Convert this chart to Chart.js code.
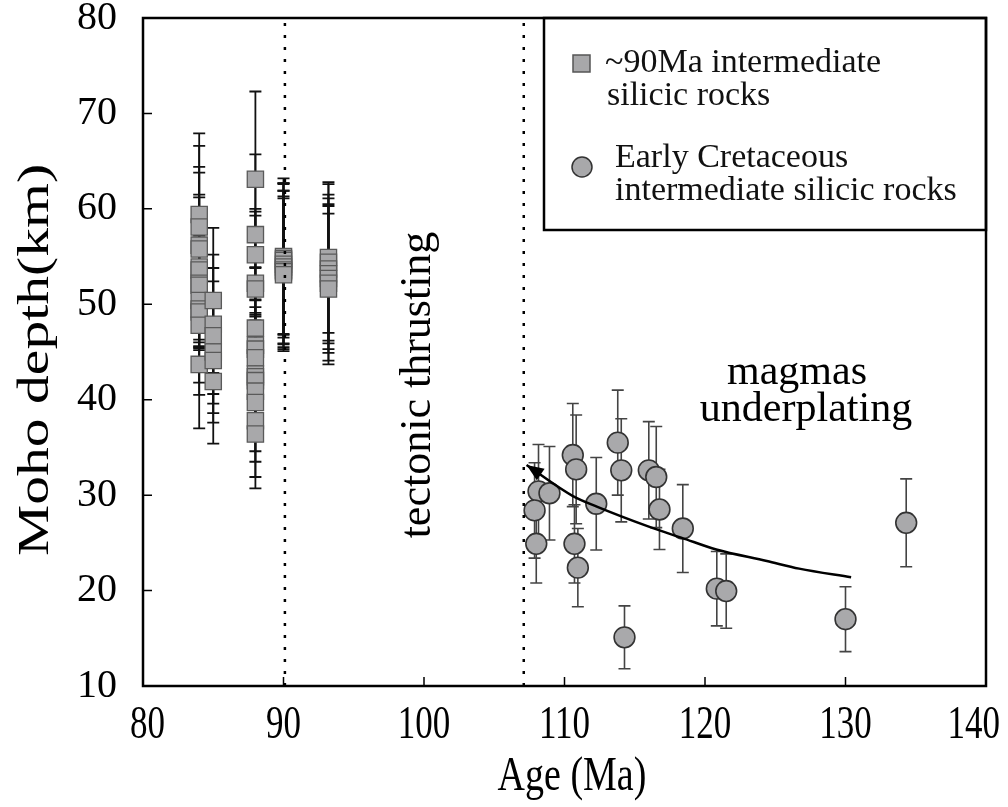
<!DOCTYPE html>
<html>
<head>
<meta charset="utf-8">
<script src="https://cdn.jsdelivr.net/npm/chart.js@4.4.1/dist/chart.umd.min.js"></script>
<style>
  body { margin: 0; background: #fff; }
  #wrap { width: 1008px; height: 807px; }
</style>
</head>
<body>
<div id="wrap"><canvas id="mohoChart" width="1008" height="807"></canvas></div>
<script>
// ~90 Ma intermediate silicic rocks: age (Ma), Moho depth (km), error (km)
const squareAge = [
  84.0, 84.0, 84.0, 84.0, 84.0, 84.0, 84.0, 84.0, 84.0, 84.0, 84.0, 84.0, 84.0,
  85.0, 85.0, 85.0, 85.0, 85.0, 85.0,
  88.0, 88.0, 88.0, 88.0, 88.0, 88.0, 88.0, 88.0, 88.0, 88.0, 88.0, 88.0, 88.0, 88.0, 88.0, 88.0,
  90.0, 90.0, 90.0, 90.0, 90.0, 90.0, 90.0, 90.0,
  93.2, 93.2, 93.2, 93.2, 93.2, 93.2, 93.2,
];
const squareDepth = [
  59.4, 58.1, 56.2, 55.8, 53.9, 53.6, 52.2, 52.0, 50.4, 49.5, 49.2, 47.8, 43.7,
  50.4, 47.9, 46.7, 45.0, 44.1, 41.9,
  63.1, 57.3, 55.2, 52.2, 51.6, 47.5, 45.7, 45.3, 44.4, 42.7, 42.4, 42.0, 40.9, 39.7, 37.8, 36.4,
  55.0, 54.8, 54.6, 54.2, 53.9, 53.6, 53.4, 53.1,
  54.9, 54.4, 53.7, 53.2, 52.7, 52.2, 51.6,
];
const squareError = [
  8.5, 8.5, 8.2, 8.0, 7.6, 7.6, 6.6, 6.5, 5.0, 7.7, 4.0, 7.3, 6.7,
  7.6, 7.3, 7.1, 7.4, 5.5, 6.5,
  9.2, 8.4, 4.8, 7.5, 7.7, 6.3, 4.8, 4.4, 4.7, 6.0, 4.0, 5.0, 7.4, 7.8, 7.1, 1.8,
  8.2, 7.9, 8.1, 8.4, 8.0, 8.3, 7.9, 8.0,
  7.9, 8.2, 7.8, 7.9, 7.8, 8.1, 7.9,
];

// Early Cretaceous intermediate silicic rocks
const circleAge = [108.15, 107.87, 107.99, 108.93, 110.59, 110.83, 110.71, 110.95, 112.26, 113.79,
  114.04, 116.0, 116.53, 116.76, 118.42, 114.27, 120.84, 121.51, 130.0, 134.32];
const circleDepth = [30.4, 28.4, 24.9, 30.2, 34.2, 32.7, 24.9, 22.4, 29.1, 35.5,
  32.6, 32.6, 31.9, 28.5, 26.5, 15.1, 20.2, 19.95, 17.0, 27.1];
const circleError = [4.9, 5.0, 4.1, 4.9, 5.4, 5.7, 4.1, 4.1, 4.85, 5.5,
  5.4, 5.1, 5.3, 4.2, 4.6, 3.3, 3.9, 3.9, 3.4, 4.6];

// underplating trend (arrow points to the younger end)
const trendAge = [107.3, 110.6, 112.3, 116.0, 118.4, 120.8, 124.4, 126.7, 130.4];
const trendDepth = [33.15, 29.9, 28.8, 26.7, 25.5, 24.3, 23.1, 22.3, 21.4];

// dotted boundaries
const dividerAge = [90.1, 107.1];
const depthRange = [10, 80];

const ageTicks = [80, 90, 100, 110, 120, 130, 140];
const depthTicks = [10, 20, 30, 40, 50, 60, 70, 80];

const toPoints = (xs, ys) => xs.map((x, i) => ({ x: x, y: ys[i] }));

const SERIF = "'Liberation Serif', 'Times New Roman', serif";
Chart.defaults.font.family = SERIF;
Chart.defaults.color = "#000";

// error bars under the markers
const errorBars = {
  id: "errorBars",
  beforeDatasetsDraw(chart) {
    const { ctx, scales: { x, y } } = chart;
    chart.data.datasets.forEach((ds) => {
      if (!ds.errors) return;
      ctx.save();
      ctx.strokeStyle = ds.errorColor;
      ctx.lineWidth = ds.errorWidth;
      ds.data.forEach((p, i) => {
        const px = x.getPixelForValue(p.x);
        const top = y.getPixelForValue(p.y + ds.errors[i]);
        const bot = y.getPixelForValue(p.y - ds.errors[i]);
        ctx.beginPath();
        ctx.moveTo(px, top);
        ctx.lineTo(px, bot);
        ctx.moveTo(px - 6, top);
        ctx.lineTo(px + 6, top);
        ctx.moveTo(px - 6, bot);
        ctx.lineTo(px + 6, bot);
        ctx.stroke();
      });
      ctx.restore();
    });
  },
};

// stretched text, like the tall lettering of the original figure
function tallText(ctx, text, x, y, size, sy, rot) {
  ctx.save();
  ctx.translate(x, y);
  if (rot) ctx.rotate(rot);
  ctx.scale(rot ? sy : 1, rot ? 1 : sy);
  ctx.font = size + "px " + SERIF;
  ctx.fillText(text, 0, 0);
  ctx.restore();
}

// frame, inward ticks, axis text, arrowhead, notes and legend box
const decorations = {
  id: "decorations",
  afterDraw(chart) {
    const { ctx, chartArea: a, scales: { x, y } } = chart;
    ctx.save();

    // arrowhead on the trend curve
    const pts = chart.getDatasetMeta(0).data;
    const tip = pts[0];
    let bx = pts[1].x, by = pts[1].y;
    if (tip.cp2x !== undefined && (tip.cp2x !== tip.x || tip.cp2y !== tip.y)) {
      bx = tip.cp2x; by = tip.cp2y;
    }
    const ang = Math.atan2(tip.y - by, tip.x - bx);
    ctx.fillStyle = "#000";
    ctx.beginPath();
    ctx.moveTo(tip.x, tip.y);
    ctx.lineTo(tip.x - 17 * Math.cos(ang) + 7 * Math.sin(ang), tip.y - 17 * Math.sin(ang) - 7 * Math.cos(ang));
    ctx.lineTo(tip.x - 17 * Math.cos(ang) - 7 * Math.sin(ang), tip.y - 17 * Math.sin(ang) + 7 * Math.cos(ang));
    ctx.closePath();
    ctx.fill();

    // frame
    ctx.strokeStyle = "#000";
    ctx.lineWidth = 2.5;
    ctx.strokeRect(a.left, a.top, a.width, a.height);
    ctx.lineWidth = 1.5;
    ctx.beginPath();
    x.ticks.forEach((t) => {
      const px = x.getPixelForValue(t.value);
      ctx.moveTo(px, a.bottom);
      ctx.lineTo(px, a.bottom - 9);
    });
    y.ticks.forEach((t) => {
      const py = y.getPixelForValue(t.value);
      ctx.moveTo(a.left, py);
      ctx.lineTo(a.left + 9, py);
    });
    ctx.stroke();

    // x tick labels and axis titles
    ctx.fillStyle = "#000";
    ctx.textAlign = "center";
    ctx.textBaseline = "alphabetic";
    ctx.font = "35px " + SERIF;
    x.ticks.forEach((t) => {
      const label = String(t.value);
      const w = ctx.measureText(label).width;
      let px = x.getPixelForValue(t.value);
      px = Math.max(px, 130 + w / 2);
      px = Math.min(px, 1000 - w / 2);
      tallText(ctx, label, px, 738, 35, 1.3, 0);
    });
    tallText(ctx, "Age (Ma)", 572, 790, 38, 1.3, 0);
    ctx.textBaseline = "middle";
    tallText(ctx, "Moho depth(km)", 36, 360, 44, 1.31, -Math.PI / 2);

    // notes
    ctx.font = "42px " + SERIF;
    ctx.textAlign = "center";
    ctx.textBaseline = "alphabetic";
    ctx.fillText("magmas", 797, 384);
    ctx.fillText("underplating", 806, 421);
    ctx.save();
    ctx.translate(418, 385);
    ctx.rotate(-Math.PI / 2);
    ctx.font = "44px " + SERIF;
    ctx.textBaseline = "middle";
    ctx.fillText("tectonic thrusting", 0, 0);
    ctx.restore();

    // legend box
    ctx.lineWidth = 2.5;
    ctx.strokeRect(544, a.top, a.right - 544, 230 - a.top);
    ctx.fillStyle = "#a8a8aa";
    ctx.strokeStyle = "#555";
    ctx.lineWidth = 1.5;
    ctx.fillRect(573, 55, 17, 17);
    ctx.strokeRect(573, 55, 17, 17);
    ctx.beginPath();
    ctx.arc(582, 167, 10, 0, Math.PI * 2);
    ctx.fill();
    ctx.strokeStyle = "#333";
    ctx.stroke();
    ctx.fillStyle = "#111";
    ctx.font = "34px " + SERIF;
    ctx.textAlign = "left";
    ctx.textBaseline = "alphabetic";
    ctx.fillText("~90Ma intermediate", 605, 72);
    ctx.fillText("silicic rocks", 607, 105);
    ctx.fillText("Early Cretaceous", 615, 167);
    ctx.fillText("intermediate silicic rocks", 615, 200);
    ctx.restore();
  },
};

const ctx1 = document.getElementById("mohoChart").getContext("2d");
const mohoChart = new Chart(ctx1, {
  type: "scatter",
  data: {
    datasets: [
      {
        label: "trend",
        data: toPoints(trendAge, trendDepth),
        showLine: true,
        cubicInterpolationMode: "monotone",
        borderColor: "#000",
        borderWidth: 2.5,
        pointRadius: 0,
      },
      {
        label: "divider 1",
        data: toPoints([dividerAge[0], dividerAge[0]], depthRange),
        showLine: true,
        borderColor: "#000",
        borderWidth: 2.5,
        borderDash: [3, 9],
        pointRadius: 0,
      },
      {
        label: "divider 2",
        data: toPoints([dividerAge[1], dividerAge[1]], depthRange),
        showLine: true,
        borderColor: "#000",
        borderWidth: 2.5,
        borderDash: [3, 9],
        pointRadius: 0,
      },
      {
        label: "Early Cretaceous intermediate silicic rocks",
        data: toPoints(circleAge, circleDepth),
        errors: circleError,
        errorColor: "#444",
        errorWidth: 1.6,
        pointStyle: "circle",
        pointRadius: 10.4,
        backgroundColor: "#a9a9ab",
        borderColor: "#333",
        borderWidth: 1.6,
      },
      {
        label: "~90Ma intermediate silicic rocks",
        data: toPoints(squareAge, squareDepth),
        errors: squareError,
        errorColor: "#111",
        errorWidth: 1.8,
        pointStyle: "rect",
        pointRadius: 11.5,
        backgroundColor: "#a8a8aa",
        borderColor: "#5a5a5a",
        borderWidth: 1.3,
      },
    ],
  },
  options: {
    responsive: false,
    animation: false,
    events: [],
    layout: { padding: { top: 18, right: 22, left: 0, bottom: 0 } },
    plugins: {
      legend: { display: false },
      tooltip: { enabled: false },
    },
    scales: {
      x: {
        type: "linear",
        min: 80,
        max: 140,
        afterBuildTicks: (s) => { s.ticks = ageTicks.map((v) => ({ value: v })); },
        afterFit: (s) => { s.height = 121; s.paddingLeft = 0; s.paddingRight = 0; },
        grid: { display: false, drawTicks: false },
        border: { display: false },
        ticks: { display: false },
      },
      y: {
        type: "linear",
        min: 10,
        max: 80,
        afterBuildTicks: (s) => { s.ticks = depthTicks.map((v) => ({ value: v })); },
        afterFit: (s) => { s.width = 143; s.paddingTop = 0; s.paddingBottom = 0; },
        grid: { display: false, drawTicks: false },
        border: { display: false },
        ticks: { font: { size: 40 }, padding: 26 },
      },
    },
  },
  plugins: [errorBars, decorations],
});
</script>
</body>
</html>
